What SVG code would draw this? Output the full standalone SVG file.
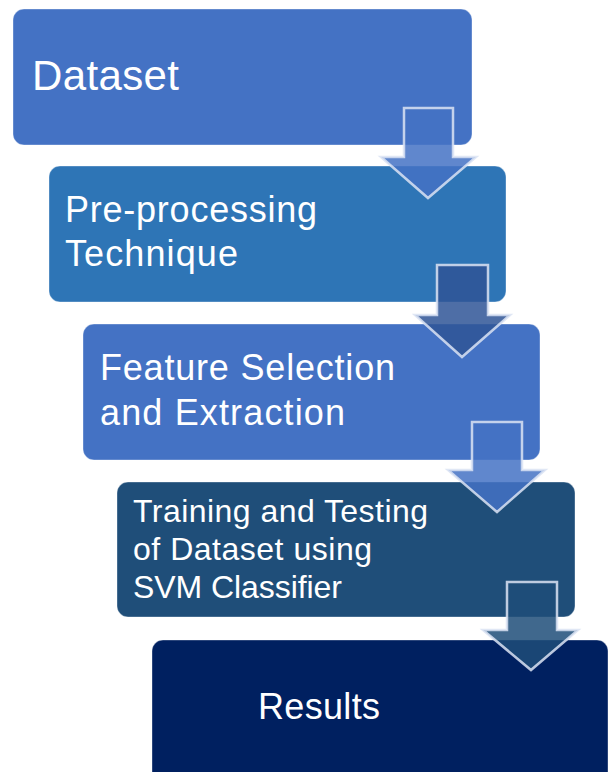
<svg xmlns="http://www.w3.org/2000/svg" width="609" height="772" viewBox="0 0 609 772">
<style>
.box{stroke:#ffffff;stroke-opacity:0.35;stroke-width:1}
.t{font-family:"Liberation Sans",Arial,sans-serif;fill:#ffffff}
.arr{stroke:#DAE3F3;stroke-opacity:0.85;stroke-width:2.5;stroke-linejoin:miter;fill-opacity:0.85}
</style>
<rect width="609" height="772" fill="#ffffff"/>
<g id="n1">
<rect class="box" x="13" y="9" width="459" height="136" rx="11" fill="#4472C4"/>
<text class="t" x="32" y="90" font-size="42" textLength="147">Dataset</text>
</g>
<g id="n2">
<rect class="box" x="49" y="166" width="457" height="136" rx="11" fill="#2E75B6"/>
<text class="t" x="65" y="222" font-size="36" textLength="252">Pre-processing</text>
<text class="t" x="65" y="266" font-size="36" textLength="173">Technique</text>
</g>
<g id="n3">
<rect class="box" x="83" y="324" width="457" height="136" rx="11" fill="#4472C4"/>
<text class="t" x="100" y="380" font-size="36" textLength="295">Feature Selection</text>
<text class="t" x="100" y="425" font-size="36" textLength="245">and Extraction</text>
</g>
<g id="n4">
<rect class="box" x="117" y="482" width="458" height="135" rx="11" fill="#1F4E79"/>
<text class="t" x="133" y="522" font-size="32" textLength="295">Training and Testing</text>
<text class="t" x="133" y="560" font-size="32" textLength="239">of Dataset using</text>
<text class="t" x="133" y="598" font-size="32" textLength="209">SVM Classifier</text>
</g>
<g id="n5">
<rect class="box" x="152" y="640" width="456" height="145" rx="11" fill="#002060"/>
<text class="t" x="258" y="719" font-size="36" textLength="122">Results</text>
</g>
<g id="connectors">
<polygon class="arr" fill="#4472C4" points="404,108 453,108 453,157 476,157 428,198 381,157 404,157"/>
<polygon class="arr" fill="#2F5597" points="437,265 488,265 488,315 510,315 462,357 415,315 437,315"/>
<polygon class="arr" fill="#4472C4" points="472,422 522,422 522,470 545,470 497,512 448,470 472,470"/>
<polygon class="arr" fill="#1F4E79" points="507,582 557,582 557,630 578,630 531,670 483,630 507,630"/>
</g>
</svg>
